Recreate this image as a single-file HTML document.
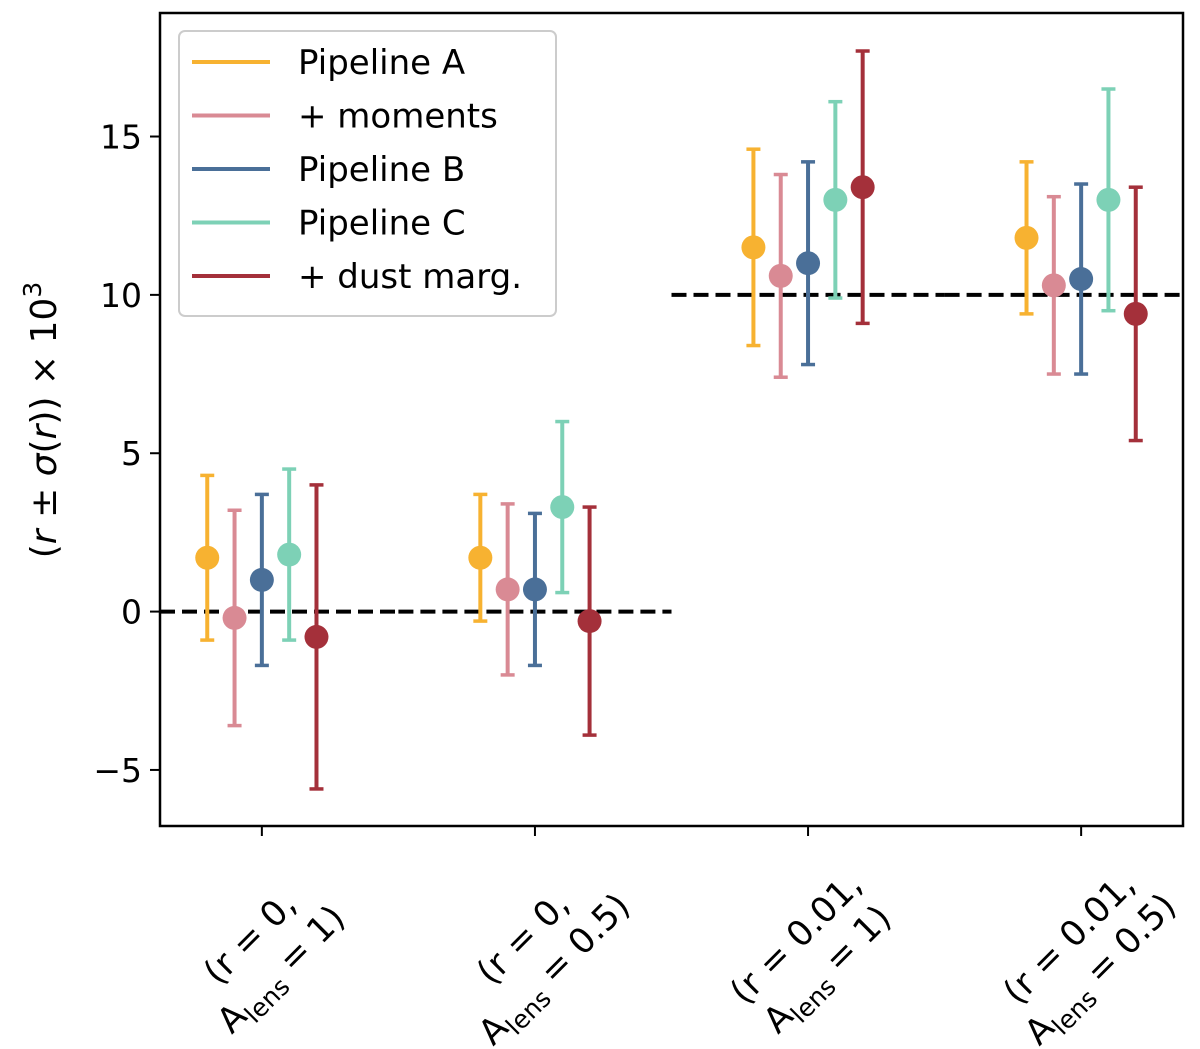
<!DOCTYPE html>
<html><head><meta charset="utf-8"><style>body{margin:0;background:#fff}svg{display:block;font-family:"DejaVu Sans","Liberation Sans",sans-serif}</style></head>
<body>
<svg id="chart" width="1200" height="1049" viewBox="0 0 1200 1049" xmlns="http://www.w3.org/2000/svg"></svg>
<script>
const categories = [["(r = 0,","1)"],["(r = 0,","0.5)"],["(r = 0.01,","1)"],["(r = 0.01,","0.5)"]];
const seriesNames = ["Pipeline A","+ moments","Pipeline B","Pipeline C","+ dust marg."];
const seriesColors = ["#f7b231","#d98a94","#4a6f98","#7dd1b6","#a4303a"];
const pipelineA = [1.7,1.7,11.5,11.8];
const pipelineAErr = [2.6,2.0,3.1,2.4];
const moments = [-0.2,0.7,10.6,10.3];
const momentsErr = [3.4,2.7,3.2,2.8];
const pipelineB = [1.0,0.7,11.0,10.5];
const pipelineBErr = [2.7,2.4,3.2,3.0];
const pipelineC = [1.8,3.3,13.0,13.0];
const pipelineCErr = [2.7,2.7,3.1,3.5];
const dust = [-0.8,-0.3,13.4,9.4];
const dustErr = [4.8,3.6,4.3,4.0];
const truthValues = [0,0,10,10];
const yTicks = [-5,0,5,10,15];
const yTickLabels = ["\u22125","0","5","10","15"];

const svg = document.getElementById('chart');
const NS = 'http://www.w3.org/2000/svg';
const L=160,R=1183,T=13,B=826;
const yMin=-6.77,yMax=18.9;
const y = v => B-(v-yMin)/(yMax-yMin)*(B-T);
const xMin=-0.373, xMax=3.373;
const x = v => L+(v-xMin)/(xMax-xMin)*(R-L);
const offsets=[-0.2,-0.1,0,0.1,0.2];
function el(t,a,p){const e=document.createElementNS(NS,t);for(const k in a)e.setAttribute(k,a[k]);(p||svg).appendChild(e);return e;}

truthValues.forEach((v,i)=>{
  const l=el('line',{x1:Math.max(L,x(i-0.5)),x2:Math.min(R,x(i+0.5)),y1:y(v),y2:y(v),stroke:'#000','stroke-width':4,'stroke-dasharray':'15,7'});
  
  
});

const vals=[pipelineA,moments,pipelineB,pipelineC,dust];
const errs=[pipelineAErr,momentsErr,pipelineBErr,pipelineCErr,dustErr];
vals.forEach((s,si)=>{
  const g=el('g',{});
  
  
  s.forEach((v,ci)=>{
    const cx=x(ci+offsets[si]),c=seriesColors[si],e=errs[si][ci];
    el('line',{x1:cx,x2:cx,y1:y(v-e),y2:y(v+e),stroke:c,'stroke-width':4},g);
    el('line',{x1:cx-7,x2:cx+7,y1:y(v-e),y2:y(v-e),stroke:c,'stroke-width':3.5},g);
    el('line',{x1:cx-7,x2:cx+7,y1:y(v+e),y2:y(v+e),stroke:c,'stroke-width':3.5},g);
    const p=el('circle',{cx:cx,cy:y(v),r:12,fill:c},g);
    
    
  });
});

const fr=el('rect',{x:L,y:T,width:R-L,height:B-T,fill:'none',stroke:'#000','stroke-width':2.5});



yTicks.forEach((t,i)=>{
  el('line',{x1:L-10,x2:L,y1:y(t),y2:y(t),stroke:'#000','stroke-width':2});
  const tx=el('text',{x:L-18,y:y(t)+12,'text-anchor':'end','font-size':33});
  tx.textContent=yTickLabels[i];
  
  
});
categories.forEach((c,i)=>{
  const cx=x(i);
  el('line',{x1:cx,x2:cx,y1:B,y2:B+10,stroke:'#000','stroke-width':2});
  const g=el('g',{transform:`translate(${cx+2},952) rotate(-45)`});
  
  
  const t1=el('text',{x:0,y:-8,'text-anchor':'middle','font-size':35},g);
  t1.textContent=c[0];
  const t2=el('text',{x:0,y:36,'text-anchor':'middle','font-size':35},g);
  t2.innerHTML='A<tspan font-size="25" dy="9">lens</tspan><tspan dy="-9"> = '+c[1]+'</tspan>';
});

const yl=el('text',{transform:'translate(56,420) rotate(-90)','text-anchor':'middle','font-size':36});
yl.innerHTML='(<tspan font-style="italic">r</tspan> ± <tspan font-style="italic">σ</tspan>(<tspan font-style="italic">r</tspan>)) × 10<tspan font-size="25" dy="-15">3</tspan>';



const lg=el('g',{});


el('rect',{x:179,y:31,width:377,height:285,rx:6,fill:'#fff','fill-opacity':0.85,stroke:'#ccc','stroke-width':2},lg);
seriesNames.forEach((n,i)=>{
  const yy=62+i*53.5;
  const e=el('g',{},lg);
  
  
  el('line',{x1:192,x2:270,y1:yy,y2:yy,stroke:seriesColors[i],'stroke-width':4},e);
  const t=el('text',{x:298,y:yy+12,'font-size':34},e);
  t.textContent=n;
});
</script>
</body></html>
